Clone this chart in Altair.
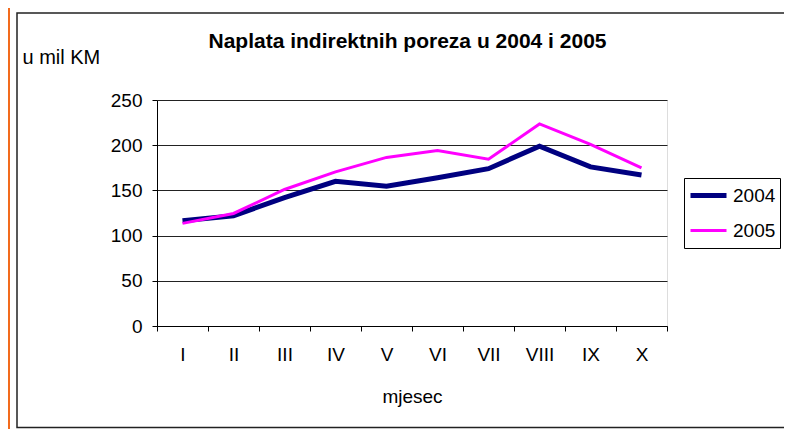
import altair as alt
import pandas as pd

months = ["I", "II", "III", "IV", "V", "VI", "VII", "VIII", "IX", "X"]
v2004 = [116.5, 122, 142, 160, 154.5, 164, 174, 199, 176, 167]
v2005 = [113.5, 124.5, 151, 170.5, 186.5, 194, 184.5, 223.5, 201, 175]
years = ["2004", "2005"]
colors = ["#000080", "#FF00FF"]
widths = [5, 3]

rows = []
for m, a, b in zip(months, v2004, v2005):
    rows.append({"mjesec": m, "year": "2004", "value": a})
    rows.append({"mjesec": m, "year": "2005", "value": b})
df = pd.DataFrame(rows)

FONT = "Liberation Sans"
one = pd.DataFrame({"a": [0]})

frame = alt.Chart(one).mark_rect(fill=None, stroke="#222", strokeWidth=1.5).encode(
    x=alt.value(-140), x2=alt.value(660), y=alt.value(-87), y2=alt.value(327.5)
)
orange = alt.Chart(one).mark_rule(color="#F26B1D", strokeWidth=2).encode(
    x=alt.value(-148), y=alt.value(-95), y2=alt.value(340)
)
title = alt.Chart(one).mark_text(
    text="Naplata indirektnih poreza u 2004 i 2005",
    font=FONT, fontSize=21, fontWeight="bold", color="black",
    align="center", baseline="alphabetic",
).encode(x=alt.value(250.5), y=alt.value(-52))

lines = alt.Chart(df).mark_line().encode(
    x=alt.X(
        "mjesec:N", sort=months, bandPosition=0.5,
        scale=alt.Scale(type="band", paddingInner=0, paddingOuter=0),
        axis=alt.Axis(
            title="mjesec", tickBand="extent", labelAngle=0, tickSize=5,
            labelPadding=14, labelFontSize=19, labelFont=FONT, labelColor="black",
            titleFont=FONT, titleFontSize=19, titleFontWeight="normal", titleColor="black",
            titleY=76, titleBaseline="alphabetic", domainColor="black", tickColor="black",
            grid=False,
        ),
    ),
    y=alt.Y(
        "value:Q", scale=alt.Scale(domain=[0, 250], nice=False),
        axis=alt.Axis(
            title="u mil KM", values=[0, 50, 100, 150, 200, 250], tickSize=5,
            labelPadding=10, labelFontSize=19, labelFont=FONT, labelColor="black",
            titleFont=FONT, titleFontSize=20, titleFontWeight="normal", titleColor="black",
            titleAngle=0, titleAlign="left", titleBaseline="alphabetic",
            titleX=-135, titleY=-37, domainColor="black", tickColor="black",
            grid=True, gridColor="#222", gridWidth=1,
        ),
    ),
    color=alt.Color(
        "year:N", scale=alt.Scale(domain=years, range=colors),
        legend=alt.Legend(
            title=None, orient="none", legendX=527, legendY=78,
            strokeColor="black", padding=4, symbolType="stroke", symbolSize=1296,
            clipHeight=27, rowPadding=8, labelFontSize=19, labelFont=FONT,
            labelColor="black", labelOffset=4,
        ),
    ),
    strokeWidth=alt.StrokeWidth(
        "year:N", scale=alt.Scale(domain=years, range=widths), legend=alt.Legend(title=None)
    ),
)

chart = alt.layer(frame, orange, lines, title).properties(
    width=510, height=226,
    autosize=alt.AutoSizeParams(type="none"),
    padding={"left": 149, "top": 92, "right": 117, "bottom": 103},
).configure_view(stroke="black", strokeWidth=1).configure(background="white")

chart.save("out.html", embed_options={"renderer": "svg", "actions": False})
